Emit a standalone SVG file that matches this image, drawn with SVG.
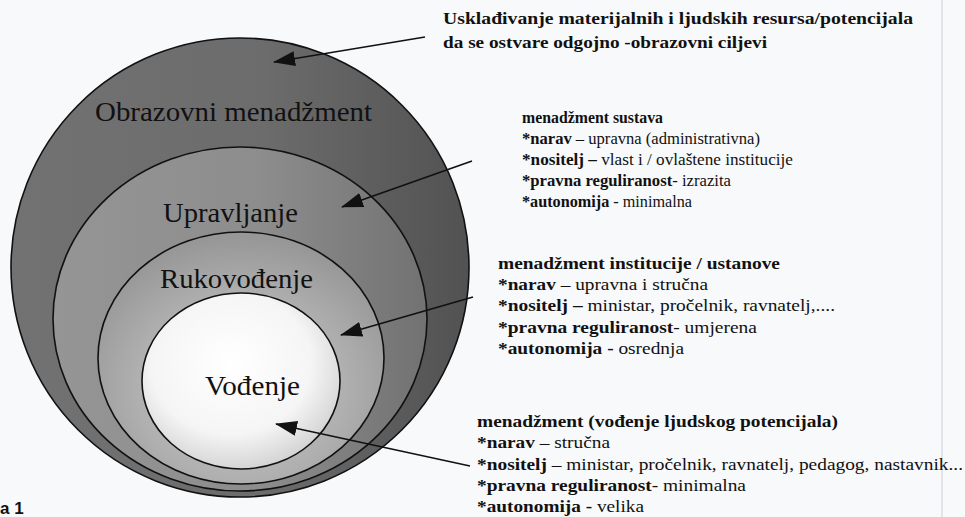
<svg xmlns="http://www.w3.org/2000/svg" width="965" height="517" viewBox="0 0 965 517">
<style>
.ring{stroke:#111;stroke-width:1.6}
.clabel{font-family:"Liberation Serif","DejaVu Serif",serif;font-size:26.5px;fill:#111;text-anchor:middle}
.rt{font-family:"Liberation Serif","DejaVu Serif",serif;font-size:16.5px;fill:#111}
.b{font-weight:bold}
.conn{stroke:#111;stroke-width:1.6;fill:none;marker-end:url(#ah)}
</style>
<defs>
<marker id="ah" markerUnits="userSpaceOnUse" markerWidth="24" markerHeight="18" refX="21" refY="7.5" orient="auto">
<path d="M0,0 L22,7.5 L0,15 Z" fill="#111"/>
</marker>
<linearGradient id="g1" x1="0" y1="0" x2="1" y2="0">
<stop offset="0" stop-color="#727272"/>
<stop offset="0.55" stop-color="#6c6c6c"/>
<stop offset="1" stop-color="#525252"/>
</linearGradient>
<linearGradient id="g2" x1="0" y1="0" x2="1" y2="0">
<stop offset="0" stop-color="#959595"/>
<stop offset="0.55" stop-color="#8d8d8d"/>
<stop offset="1" stop-color="#727272"/>
</linearGradient>
<radialGradient id="g3" cx="0.5" cy="0.62" r="0.6">
<stop offset="0" stop-color="#cbcbcb"/>
<stop offset="0.6" stop-color="#b0b0b0"/>
<stop offset="1" stop-color="#979797"/>
</radialGradient>
<radialGradient id="g4" cx="0.45" cy="0.4" r="0.62">
<stop offset="0" stop-color="#ffffff"/>
<stop offset="0.65" stop-color="#f5f5f5"/>
<stop offset="1" stop-color="#d2d2d2"/>
</radialGradient>
</defs>
<rect x="0" y="0" width="965" height="517" fill="#f7f9fb"/>
<line x1="942" y1="0" x2="942" y2="517" stroke="#c9d1d9" stroke-width="1"/>

<g id="node-obrazovni-menadzment">
<ellipse class="ring" cx="240" cy="267.5" rx="229" ry="229.5" fill="url(#g1)"/>
<text class="clabel" font-family="Liberation Serif, serif" x="233.5" y="120.5" textLength="277" lengthAdjust="spacingAndGlyphs">Obrazovni menadžment</text>
</g>
<g id="node-upravljanje">
<ellipse class="ring" cx="240" cy="319" rx="187" ry="172" fill="url(#g2)"/>
<text class="clabel" font-family="Liberation Serif, serif" x="230.5" y="221.5" textLength="135" lengthAdjust="spacingAndGlyphs">Upravljanje</text>
</g>
<g id="node-rukovodenje">
<ellipse class="ring" cx="241" cy="358" rx="143" ry="126" fill="url(#g3)"/>
<text class="clabel" font-family="Liberation Serif, serif" x="236.5" y="287.5" textLength="153" lengthAdjust="spacingAndGlyphs">Rukovođenje</text>
</g>
<g id="node-vodenje">
<ellipse class="ring" cx="241" cy="381" rx="99" ry="88" fill="url(#g4)"/>
<text class="clabel" font-family="Liberation Serif, serif" x="252.5" y="394.5" textLength="95" lengthAdjust="spacingAndGlyphs">Vođenje</text>
</g>

<g id="note-uskladivanje" font-family="Liberation Serif, serif">
<text class="rt b" x="443" y="24" textLength="470" lengthAdjust="spacingAndGlyphs">Usklađivanje materijalnih i ljudskih resursa/potencijala</text>
<text class="rt b" x="443" y="48" textLength="324" lengthAdjust="spacingAndGlyphs">da se ostvare odgojno -obrazovni ciljevi</text>
</g>

<g id="note-sustava" font-family="Liberation Serif, serif">
<text class="rt b" x="522" y="123" textLength="141" lengthAdjust="spacingAndGlyphs">menadžment sustava</text>
<text class="rt" x="522" y="144" textLength="238" lengthAdjust="spacingAndGlyphs"><tspan class="b">*narav</tspan> – upravna (administrativna)</text>
<text class="rt" x="522" y="165" textLength="271" lengthAdjust="spacingAndGlyphs"><tspan class="b">*nositelj –</tspan> vlast i / ovlaštene institucije</text>
<text class="rt" x="522" y="186" textLength="209" lengthAdjust="spacingAndGlyphs"><tspan class="b">*pravna reguliranost</tspan>- izrazita</text>
<text class="rt" x="522" y="207" textLength="170" lengthAdjust="spacingAndGlyphs"><tspan class="b">*autonomija</tspan> - minimalna</text>
</g>

<g id="note-institucije" font-family="Liberation Serif, serif">
<text class="rt b" x="498" y="269" textLength="282" lengthAdjust="spacingAndGlyphs">menadžment institucije / ustanove</text>
<text class="rt" x="498" y="290" textLength="210" lengthAdjust="spacingAndGlyphs"><tspan class="b">*narav</tspan> – upravna i stručna</text>
<text class="rt" x="498" y="311" textLength="337" lengthAdjust="spacingAndGlyphs"><tspan class="b">*nositelj –</tspan> ministar, pročelnik, ravnatelj,....</text>
<text class="rt" x="498" y="333" textLength="259" lengthAdjust="spacingAndGlyphs"><tspan class="b">*pravna reguliranost</tspan>- umjerena</text>
<text class="rt" x="498" y="354" textLength="186" lengthAdjust="spacingAndGlyphs"><tspan class="b">*autonomija -</tspan> osrednja</text>
</g>

<g id="note-vodenje" font-family="Liberation Serif, serif">
<text class="rt b" x="477" y="427" textLength="361" lengthAdjust="spacingAndGlyphs">menadžment (vođenje ljudskog potencijala)</text>
<text class="rt" x="477" y="448" textLength="133" lengthAdjust="spacingAndGlyphs"><tspan class="b">*narav</tspan> – stručna</text>
<text class="rt" x="477" y="469.5" textLength="486" lengthAdjust="spacingAndGlyphs"><tspan class="b">*nositelj</tspan> – ministar, pročelnik, ravnatelj, pedagog, nastavnik...</text>
<text class="rt" x="477" y="491" textLength="269" lengthAdjust="spacingAndGlyphs"><tspan class="b">*pravna reguliranost</tspan>- minimalna</text>
<text class="rt" x="477" y="512" textLength="167" lengthAdjust="spacingAndGlyphs"><tspan class="b">*autonomija -</tspan> velika</text>
</g>

<g id="connectors">
<line class="conn" x1="425" y1="37" x2="274" y2="62"/>
<line class="conn" x1="472" y1="161" x2="342" y2="207"/>
<line class="conn" x1="473" y1="297" x2="341" y2="335"/>
<line class="conn" x1="470" y1="466" x2="276" y2="424"/>
</g>

<text x="0" y="514" font-family="Liberation Sans, Arial, sans-serif" font-weight="bold" font-size="17" fill="#111">a 1</text>
</svg>
